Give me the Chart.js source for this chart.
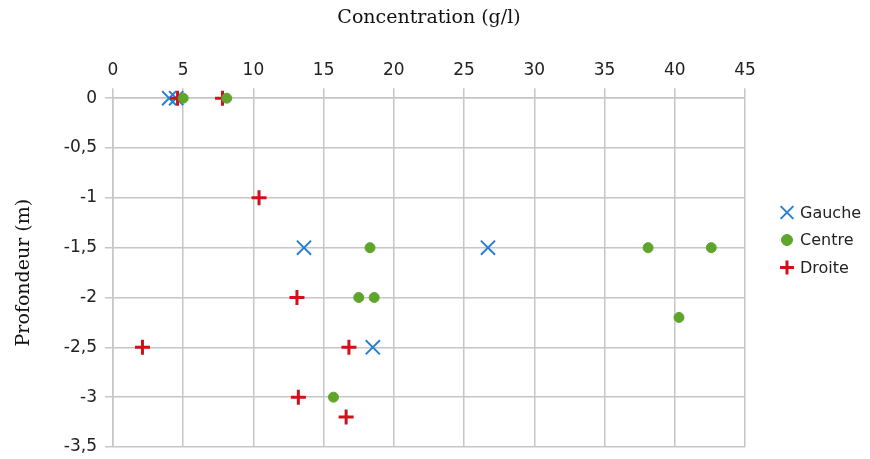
<!DOCTYPE html>
<html>
<head>
<meta charset="utf-8">
<script src="https://cdn.jsdelivr.net/npm/chart.js@4/dist/chart.umd.min.js"></script>
<style>
html,body{margin:0;padding:0;background:#fff;}
#wrap{width:870px;height:459px;}
</style>
</head>
<body>
<div id="wrap"><canvas id="c" width="870" height="459"></canvas></div>
<script>
// Data
const seriesNames = ["Gauche", "Centre", "Droite"];
const gaucheX = [4.0, 4.5, 13.6, 26.7, 18.5];
const gaucheY = [0, 0, -1.5, -1.5, -2.5];
const centreX = [5.0, 8.1, 18.3, 38.1, 42.6, 17.5, 18.6, 40.3, 15.7];
const centreY = [0, 0, -1.5, -1.5, -1.5, -2, -2, -2.2, -3];
const droiteX = [4.6, 7.8, 10.4, 13.1, 2.1, 16.8, 13.2, 16.6];
const droiteY = [0, 0, -1, -2, -2.5, -2.5, -3, -3.2];
const xTitle = "Concentration (g/l)";
const yTitle = "Profondeur (m)";

function pts(xs, ys){ return xs.map((x,i)=>({x:x, y:ys[i]})); }

const gridColor = '#c6c6c6';
const tickFont = {family: "'DejaVu Sans', sans-serif", size: 17};
const titleFont = {family: "'DejaVu Serif', 'Liberation Serif', serif", size: 19};

// Custom legend, drawn to the right of the plot, using each dataset's own style
const sideLegend = {
  id: 'sideLegend',
  afterDraw(chart) {
    const ctx = chart.ctx;
    const area = chart.chartArea;
    const n = chart.data.datasets.length;
    const step = 27.5;
    const cy = 240;
    const mx = area.right + 42;
    ctx.save();
    chart.data.datasets.forEach((ds, i) => {
      const y = cy + (i - (n - 1) / 2) * step;
      ctx.strokeStyle = ds.borderColor;
      ctx.fillStyle = ds.backgroundColor;
      ctx.lineWidth = ds.legendBorderWidth;
      Chart.helpers.drawPoint(ctx, {pointStyle: ds.pointStyle, radius: ds.legendRadius, rotation: 0, borderWidth: ds.legendBorderWidth}, mx, y);
      ctx.fillStyle = '#222';
      ctx.font = "16px 'DejaVu Sans', sans-serif";
      ctx.textBaseline = 'middle';
      ctx.textAlign = 'left';
      ctx.fillText(ds.label, mx + 13, y + 1);
    });
    ctx.restore();
  }
};

new Chart(document.getElementById('c'), {
  type: 'scatter',
  data: {
    datasets: [
      {label: seriesNames[0], data: pts(gaucheX, gaucheY), order: 3, clip: false, pointStyle: 'crossRot', pointRadius: 10, pointHoverRadius: 10, borderColor: '#2a7ed2', backgroundColor: '#2a7ed2', borderWidth: 2, legendRadius: 9, legendBorderWidth: 2},
      {label: seriesNames[1], data: pts(centreX, centreY), order: 1, clip: false, pointStyle: 'circle', pointRadius: 5, pointHoverRadius: 5, borderColor: '#5fa52a', backgroundColor: '#5fa52a', borderWidth: 1, legendRadius: 5.5, legendBorderWidth: 1},
      {label: seriesNames[2], data: pts(droiteX, droiteY), order: 2, clip: false, pointStyle: 'cross', pointRadius: 7.5, pointHoverRadius: 7.5, borderColor: '#d0101a', backgroundColor: '#d0101a', borderWidth: 3, legendRadius: 7, legendBorderWidth: 3}
    ]
  },
  options: {
    responsive: false,
    animation: false,
    layout: {padding: {top: 7, left: 13, right: 125, bottom: 12}},
    plugins: {
      tooltip: {enabled: false},
      legend: {display: false}
    },
    scales: {
      x: {
        type: 'linear', position: 'top', min: 0, max: 45,
        ticks: {stepSize: 5, color: '#222', font: tickFont, padding: 7},
        grid: {color: gridColor, lineWidth: 1.5, tickLength: 10, drawTicks: true},
        border: {color: gridColor, width: 1.5},
        title: {display: true, text: xTitle, color: '#111', font: titleFont, padding: {top: 0, bottom: 24}}
      },
      y: {
        type: 'linear', min: -3.5, max: 0,
        afterFit: (scale) => { scale.paddingBottom = 0; },
        ticks: {stepSize: 0.5, color: '#222', font: tickFont, padding: 8,
          callback: v => String(Math.round(v*10)/10).replace('.', ',')},
        grid: {color: gridColor, lineWidth: 1.5, tickLength: 8},
        border: {color: gridColor, width: 1.5},
        title: {display: true, text: yTitle, color: '#111', font: titleFont, padding: {top: 0, bottom: 20}}
      }
    }
  },
  plugins: [sideLegend]
});
</script>
</body>
</html>
